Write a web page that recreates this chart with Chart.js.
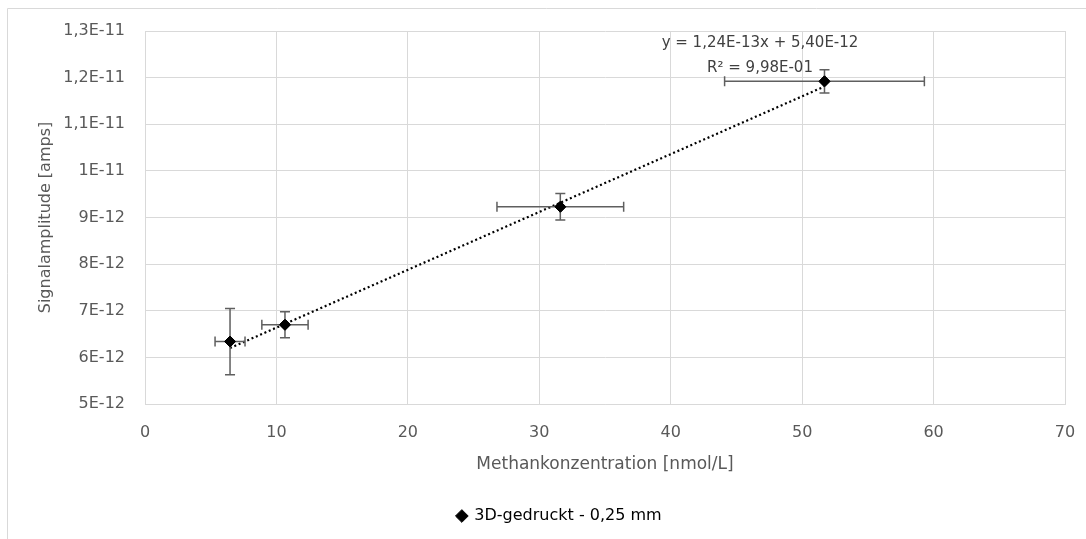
<!DOCTYPE html>
<html>
<head>
<meta charset="utf-8">
<style>
  html, body { margin: 0; padding: 0; background: #fff; }
  #wrap { width: 1086px; height: 539px; }
</style>
</head>
<body>
<div id="wrap"><canvas id="Grafica"></canvas></div>
<script src="https://cdn.jsdelivr.net/npm/chart.js"></script>
<script>
const konzentration = [6.47, 10.65, 31.6, 51.7];          // nmol/L
const signal = [6.34e-12, 6.70e-12, 9.23e-12, 1.192e-11];  // amps
const fehlerX = [1.14, 1.76, 4.82, 7.6];
const fehlerY = [0.71e-12, 0.28e-12, 0.285e-12, 0.25e-12];

// Trendlinie (Excel, linear)
const trendX = [6.47, 51.7];
const trendY = [6.20e-12, 1.181e-11];
const gleichung = "y = 1,24E-13x + 5,40E-12";
const bestimmtheit = "R² = 9,98E-01";

const xTicks = [0, 10, 20, 30, 40, 50, 60, 70];
const yTicks = [5e-12, 6e-12, 7e-12, 8e-12, 9e-12, 1e-11, 1.1e-11, 1.2e-11, 1.3e-11];
const yTickLabels = ["5E-12", "6E-12", "7E-12", "8E-12", "9E-12", "1E-11", "1,1E-11", "1,2E-11", "1,3E-11"];

const schrift = "'DejaVu Sans', sans-serif";
const grau = '#595959';

const punkte = konzentration.map((x, i) => ({ x: x, y: signal[i] }));
const trend = trendX.map((x, i) => ({ x: x, y: trendY[i] }));

// Fehlerbalken zeichnen
const fehlerbalken = {
  id: 'fehlerbalken',
  afterLayout(chart) {
    // Legende etwas nach rechts (wie im Original)
    chart.legend.left += 22;
    chart.legend.right += 22;
  },
  afterDatasetsDraw(chart) {
    const ctx = chart.ctx;
    const sx = chart.scales.x, sy = chart.scales.y;
    const cap = 5;
    ctx.save();
    ctx.strokeStyle = '#5f5f5f';
    ctx.lineWidth = 1.5;
    punkte.forEach((p, i) => {
      const px = sx.getPixelForValue(p.x), py = sy.getPixelForValue(p.y);
      const x1 = sx.getPixelForValue(p.x - fehlerX[i]), x2 = sx.getPixelForValue(p.x + fehlerX[i]);
      const y1 = sy.getPixelForValue(p.y + fehlerY[i]), y2 = sy.getPixelForValue(p.y - fehlerY[i]);
      ctx.beginPath();
      ctx.moveTo(x1, py); ctx.lineTo(x2, py);
      ctx.moveTo(x1, py - cap); ctx.lineTo(x1, py + cap);
      ctx.moveTo(x2, py - cap); ctx.lineTo(x2, py + cap);
      ctx.moveTo(px, y1); ctx.lineTo(px, y2);
      ctx.moveTo(px - cap, y1); ctx.lineTo(px + cap, y1);
      ctx.moveTo(px - cap, y2); ctx.lineTo(px + cap, y2);
      ctx.stroke();
    });
    // Punkte nochmal oben drauf
    const meta = chart.getDatasetMeta(1);
    meta.data.forEach(el => el.draw(ctx));
    ctx.restore();
  }
};

// Gleichung + Rahmen
const beschriftung = {
  id: 'beschriftung',
  afterDraw(chart) {
    const ctx = chart.ctx;
    const a = chart.chartArea;
    ctx.save();
    ctx.fillStyle = '#404040';
    ctx.font = "15px " + schrift;
    ctx.textAlign = 'center';
    ctx.textBaseline = 'middle';
    ctx.fillText(gleichung, a.left + 615, 43);
    ctx.fillText(bestimmtheit, a.left + 615, 68);
    ctx.strokeStyle = '#d9d9d9';
    ctx.lineWidth = 1;
    ctx.beginPath();
    ctx.moveTo(7.5, 539); ctx.lineTo(7.5, 8.5); ctx.lineTo(1086, 8.5);
    ctx.stroke();
    ctx.restore();
  }
};

new Chart(document.getElementById("Grafica"), {
  type: 'scatter',
  data: {
    datasets: [
      {
        label: 'Trend',
        type: 'line',
        data: trend,
        borderColor: '#000',
        borderWidth: 2.2,
        borderDash: [2, 2.7],
        pointRadius: 0,
        fill: false,
        order: 2
      },
      {
        label: '3D-gedruckt - 0,25 mm',
        data: punkte,
        pointStyle: 'rectRot',
        pointRadius: 5.5,
        pointHoverRadius: 5.5,
        backgroundColor: '#000',
        borderColor: '#000',
        borderWidth: 1,
        order: 1
      }
    ]
  },
  options: {
    responsive: true,
    maintainAspectRatio: false,
    animation: false,
    layout: { padding: { left: 10, right: 21, top: 31, bottom: 5 } },
    plugins: {
      tooltip: { enabled: false },
      legend: {
        position: 'bottom',
        labels: {
          usePointStyle: true,
          boxWidth: 9,
          boxHeight: 9,
          padding: 10,
          color: '#000',
          font: { family: schrift, size: 16 },
          filter: item => item.datasetIndex === 1
        }
      }
    },
    scales: {
      x: {
        type: 'linear',
        min: 0,
        max: 70,
        afterBuildTicks: s => { s.ticks = xTicks.map(v => ({ value: v })); },
        afterFit: s => { s.height = 94; s.paddingRight = 0; s.paddingLeft = 0; },
        grid: { color: '#d9d9d9', drawTicks: false },
        border: { color: '#d9d9d9' },
        ticks: { color: grau, padding: 19, font: { family: schrift, size: 16 } },
        title: {
          display: true,
          text: 'Methankonzentration [nmol/L]',
          color: grau,
          font: { family: schrift, size: 17 },
          padding: { top: 0, bottom: 23 }
        }
      },
      y: {
        type: 'linear',
        min: 5e-12,
        max: 1.3e-11,
        afterBuildTicks: s => { s.ticks = yTicks.map(v => ({ value: v })); },
        afterFit: s => { s.width = 135; },
        grid: { color: '#d9d9d9', drawTicks: false },
        border: { color: '#d9d9d9' },
        ticks: {
          color: grau,
          padding: 20,
          font: { family: schrift, size: 16 },
          callback: (v, i) => yTickLabels[i]
        },
        title: {
          display: true,
          text: 'Signalamplitude [amps]',
          color: grau,
          font: { family: schrift, size: 16 },
          padding: { top: 26, bottom: 0 }
        }
      }
    }
  },
  plugins: [fehlerbalken, beschriftung]
});
</script>
</body>
</html>
